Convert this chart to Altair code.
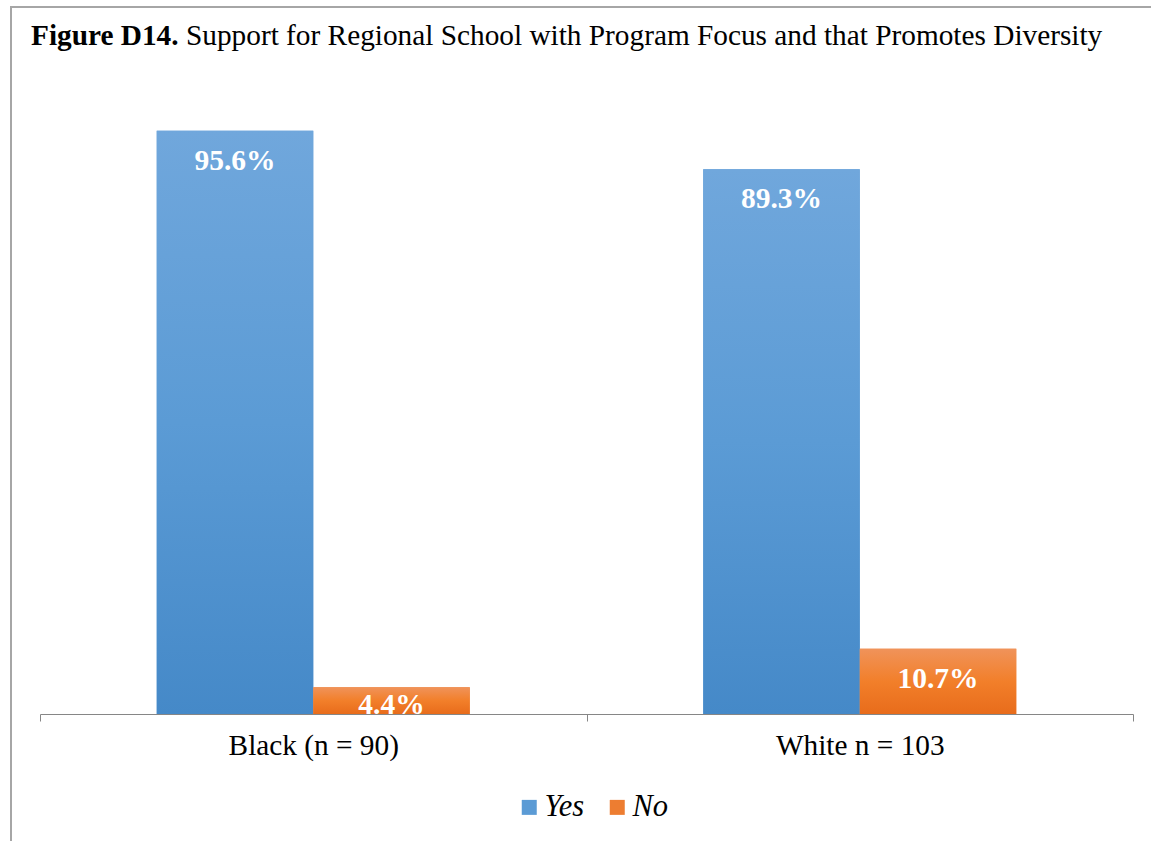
import altair as alt
import pandas as pd

groups = ["Black (n = 90)", "White n = 103"]
series = ["Yes", "No"]
yes_vals = [95.6, 89.3]
no_vals = [4.4, 10.7]
labels_yes = ["95.6%", "89.3%"]
labels_no = ["4.4%", "10.7%"]

rows = []
for g, v, l in zip(groups, yes_vals, labels_yes):
    rows.append({"group": g, "series": "Yes", "value": v, "label": l})
for g, v, l in zip(groups, no_vals, labels_no):
    rows.append({"group": g, "series": "No", "value": v, "label": l})
df = pd.DataFrame(rows)

FONT = "Liberation Serif"
W, H = 1093, 610

x_enc = alt.X("group:N", sort=groups,
              scale=alt.Scale(paddingInner=0, paddingOuter=0),
              axis=alt.Axis(title=None, labelFont=FONT, labelFontSize=29.3, labelColor="#000000",
                            labelAngle=0, domainColor="#868686", tickColor="#868686",
                            tickSize=7, tickBand="extent", labelPadding=10))
xo_enc = alt.XOffset("series:N", sort=series, scale=alt.Scale(paddingOuter=0.746, paddingInner=0))
y_enc = alt.Y("value:Q", scale=alt.Scale(domain=[0, 100]), axis=None)

base = alt.Chart(df)

solid = base.mark_bar().encode(
    x=x_enc, xOffset=xo_enc, y=y_enc,
    color=alt.Color("series:N", sort=series,
                    scale=alt.Scale(domain=series, range=["#5B9BD5", "#ED7D31"]),
                    legend=alt.Legend(title=None, orient="none", legendX=474, legendY=688,
                                      direction="horizontal", symbolType="square",
                                      symbolSize=225, symbolStrokeWidth=0,
                                      labelFont=FONT, labelFontSize=30.5, labelFontStyle="italic",
                                      labelColor="#000000", labelOffset=0, columnPadding=17))
)

grad_blue = alt.LinearGradient(gradient="linear", x1=0, x2=0, y1=0, y2=1,
                               stops=[alt.GradientStop(color="#70A7DC", offset=0),
                                      alt.GradientStop(color="#5B9BD5", offset=0.5),
                                      alt.GradientStop(color="#4589C8", offset=1)])
grad_orange = alt.LinearGradient(gradient="linear", x1=0, x2=0, y1=0, y2=1,
                                 stops=[alt.GradientStop(color="#F0935A", offset=0),
                                        alt.GradientStop(color="#F27F2A", offset=0.5),
                                        alt.GradientStop(color="#E86C1B", offset=1)])

yes_bars = base.transform_filter(alt.datum.series == "Yes").mark_bar(fill=grad_blue).encode(
    x=x_enc, xOffset=xo_enc, y=y_enc)
no_bars = base.transform_filter(alt.datum.series == "No").mark_bar(fill=grad_orange).encode(
    x=x_enc, xOffset=xo_enc, y=y_enc)

labels = base.transform_calculate(ly="max(datum.value - 6.4, 0)").mark_text(
    font=FONT, fontSize=29.5, fontWeight="bold", color="#FFFFFF", baseline="alphabetic"
).encode(x=x_enc, xOffset=xo_enc, y=alt.Y("ly:Q", scale=alt.Scale(domain=[0, 100]), axis=None),
         text="label:N")

one = alt.Chart(pd.DataFrame({"k": [0]}))
title_bold = one.mark_text(font=FONT, fontSize=29.3, fontWeight="bold", align="left",
                           baseline="alphabetic", color="#000000").encode(
    x=alt.value(-9), y=alt.value(-59), text=alt.value("Figure D14."))
title_rest = one.mark_text(font=FONT, fontSize=29.3, align="left",
                           baseline="alphabetic", color="#000000").encode(
    x=alt.value(146), y=alt.value(-59),
    text=alt.value("Support for Regional School with Program Focus and that Promotes Diversity"))
frame_left = one.mark_rule(color="#A6A6A6", strokeWidth=2).encode(
    x=alt.value(-29), y=alt.value(-97), y2=alt.value(740))
frame_top = one.mark_rule(color="#A6A6A6", strokeWidth=2).encode(
    x=alt.value(-30), x2=alt.value(1115), y=alt.value(-97))

chart = alt.layer(solid, yes_bars, no_bars, labels, title_bold, title_rest, frame_left, frame_top).properties(
    width=W, height=H,
    autosize=alt.AutoSizeParams(type="none"),
    padding={"left": 40, "top": 104, "right": 18, "bottom": 127},
    background="#FFFFFF"
).configure_view(stroke=None)

chart.save("out.html", embed_options={"renderer": "svg", "actions": False})
